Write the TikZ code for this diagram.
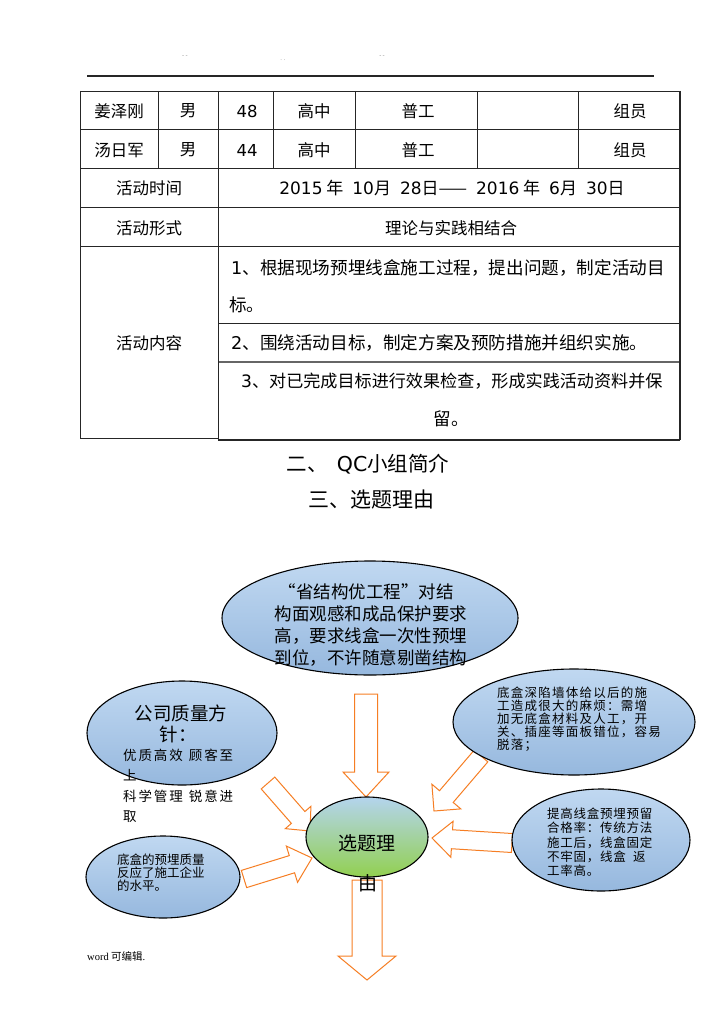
\documentclass[tikz,border=0pt]{standalone}
\usepackage{fontspec}
\setmainfont{Noto Sans CJK SC}
\newfontfamily\footfont{Liberation Serif}
\newfontfamily\dv{DejaVu Sans}
\newfontfamily\spacedA[LetterSpace=14]{Noto Sans CJK SC}
\newfontfamily\spacedB[LetterSpace=10]{Noto Sans CJK SC}
\newfontfamily\spacedC[LetterSpace=6]{Noto Sans CJK SC}
\usetikzlibrary{calc,shapes.geometric}
\definecolor{blueT}{RGB}{192,216,241}
\definecolor{blueB}{RGB}{150,184,222}
\definecolor{greenT}{RGB}{180,212,238}
\definecolor{greenB}{RGB}{146,208,80}
\definecolor{arrowor}{RGB}{246,126,36}
\newcommand\myfs[2]{\fontsize{#1}{#2}\selectfont}
\newcommand\blockarrow[5]{%
  \coordinate (ba-h) at ($(#2)!#5!(#1)$);
  \draw[arrowline] ($(#1)!#3!90:(#2)$) -- ($(ba-h)!#3!90:(#2)$) -- ($(ba-h)!#4!90:(#2)$) -- (#2)
     -- ($(ba-h)!#4!-90:(#2)$) -- ($(ba-h)!#3!-90:(#2)$) -- ($(#1)!#3!-90:(#2)$) -- cycle;}
\begin{document}
\begin{tikzpicture}[x=1pt,y=-1pt,
  tline/.style={line width=0.7pt, black!85},
  ttext/.style={font=\myfs{16.5}{20}, inner sep=0},
  ltext/.style={font=\myfs{17.6}{20}, inner sep=0, anchor=west},
  blueell/.style={ellipse, draw=black, line width=1.1pt, top color=blueT, bottom color=blueB, inner sep=0},
  greenell/.style={ellipse, draw=black, line width=1.1pt, top color=greenT, bottom color=greenB, inner sep=0},
  arrowline/.style={draw=arrowor, line width=1pt, fill=white, line join=miter},
  etext/.style={inner sep=0, align=left}]
\useasboundingbox[fill=white] (0,0) rectangle (723,1024);

% header
\draw[line width=1.6pt, black!85] (87,76) -- (654,76);
\node[inner sep=0, font=\myfs{6}{6}, gray] (m1) at (185,57) {- -};
\node[inner sep=0, font=\myfs{6}{6}, gray] (m2) at (283,60) {. .};
\node[inner sep=0, font=\myfs{6}{6}, gray] (m3) at (382,57) {- -};

% table grid
\draw[tline] (80,91) -- (680,91);
\draw[tline] (80,129) -- (680,129);
\draw[tline] (80,168) -- (680,168);
\draw[tline] (80,207) -- (680,207);
\draw[tline] (80,246) -- (680,246);
\draw[tline] (218,323) -- (680,323);
\draw[tline, line width=1.2pt, black!60] (218,362) -- (680,362);
\draw[tline] (80,438) -- (218,438);
\draw[line width=1.8pt, black!85] (218,440) -- (680,440);
\draw[tline] (80,91) -- (80,438);
\draw[tline] (158,91) -- (158,168);
\draw[tline] (218,91) -- (218,440);
\draw[tline] (273,91) -- (273,168);
\draw[tline] (355,91) -- (355,168);
\draw[tline] (477,91) -- (477,168);
\draw[tline] (578,91) -- (578,168);
\draw[line width=1.8pt, black!85] (680,91) -- (680,440);

% table text
\node[ttext] (r1a) at (119,111) {姜泽刚};
\node[ttext] (r1b) at (188,111) {男};
\node[ttext] (r1c) at (247,111) {\dv 48};
\node[ttext] (r1d) at (314,111) {高中};
\node[ttext] (r1e) at (418,111) {普工};
\node[ttext] (r1f) at (630,111) {组员};
\node[ttext] (r2a) at (119,150) {汤日军};
\node[ttext] (r2b) at (188,150) {男};
\node[ttext] (r2c) at (247,150) {\dv 44};
\node[ttext] (r2d) at (314,150) {高中};
\node[ttext] (r2e) at (418,150) {普工};
\node[ttext] (r2f) at (630,150) {组员};
\node[ttext] (r3a) at (149,188) {活动时间};
\node[ttext, font=\myfs{17}{20}] (r3b) at (452,188) {{\dv 2015} 年\hspace{9pt}{\dv 10}月\hspace{9pt}{\dv 28}日——\hspace{9pt}{\dv 2016} 年\hspace{9pt}{\dv 6}月\hspace{9pt}{\dv 30}日};
\node[ttext] (r4a) at (149,228) {活动形式};
\node[ttext] (r4b) at (451,228) {理论与实践相结合};
\node[ttext] (r5a) at (149,343) {活动内容};
\node[ltext] (l1) at (231,268) {{\dv 1}、根据现场预埋线盒施工过程，提出问题，制定活动目};
\node[ltext] (l2) at (229,305) {标。};
\node[ltext] (l3) at (231,343) {{\dv 2}、围绕活动目标，制定方案及预防措施并组织实施。};
\node[ltext, font=\myfs{17.1}{20}] (l4) at (241,381) {{\dv 3}、对已完成目标进行效果检查，形成实践活动资料并保};
\node[ttext, font=\myfs{17.6}{20}] (l5) at (451,419) {留。};

% headings
\node[inner sep=0, font=\myfs{20.5}{24}] (h2) at (368,464) {二、\ \ {\dv QC}小组简介};
\node[inner sep=0, font=\myfs{21}{24}] (h3) at (371,500) {三、选题理由};

% arrows (behind ellipses)
\coordinate (aT1) at (366,694); \coordinate (aT2) at (366,797);
\coordinate (aB1) at (367,880); \coordinate (aB2) at (367,980);
\coordinate (aC1) at (268,783); \coordinate (aC2) at (310,831);
\coordinate (aD1) at (244,879); \coordinate (aD2) at (312,858);
\coordinate (aE1) at (481,756); \coordinate (aE2) at (434,811);
\coordinate (aF1) at (512,843); \coordinate (aF2) at (432,838);
\blockarrow{aT1}{aT2}{11.5pt}{23pt}{25pt}
\blockarrow{aC1}{aC2}{9pt}{17pt}{18pt}
\blockarrow{aD1}{aD2}{9pt}{19pt}{21pt}
\blockarrow{aE1}{aE2}{9pt}{19pt}{19pt}
\blockarrow{aF1}{aF2}{9.5pt}{18pt}{20pt}

% ellipses
\node[blueell, minimum width=296pt, minimum height=114pt] (e1) at (370,618) {};
\node[blueell, minimum width=190pt, minimum height=104pt] (e2) at (182,733) {};
\node[blueell, minimum width=242pt, minimum height=106pt] (e3) at (574,722) {};
\node[blueell, minimum width=178pt, minimum height=102pt] (e4) at (601,840) {};
\node[blueell, minimum width=154pt, minimum height=82pt] (e5) at (163,877) {};
\node[greenell, minimum width=122pt, minimum height=80pt] (c) at (367,837) {};
\blockarrow{aB1}{aB2}{15pt}{29pt}{24pt}

% ellipse texts
\node[etext, font=\myfs{17.5}{22}] (t1) at (371,625) {\hspace{4pt}“省结构优工程”对结\\构面观感和成品保护要求\\高，要求线盒一次性预埋\\到位，不许随意剔凿结构};
\node[inner sep=0, font=\myfs{18.5}{20}] (t2a) at (181,713) {公司质量方};
\node[inner sep=0, font=\myfs{18.5}{20}] (t2b) at (178,734) {针：};
\node[etext, font=\spacedA\myfs{13.5}{20.3}, anchor=north west] (t2c) at (123,749) {优质高效\hspace{6pt}顾客至\\上\\科学管理\hspace{6pt}锐意进\\取};
\node[etext, font=\spacedB\myfs{12.5}{13}, anchor=north west] (t3) at (497,687) {底盒深陷墙体给以后的施\\工造成很大的麻烦：需增\\加无底盒材料及人工，开\\关、插座等面板错位，容易\\脱落；};
\node[etext, font=\spacedC\myfs{12.5}{14.2}, anchor=north west] (t4) at (547,808) {提高线盒预埋预留\\合格率：传统方法\\施工后，线盒固定\\不牢固，线盒\ \ 返\\工率高。};
\node[etext, font=\myfs{12.5}{11.2}, anchor=north west] (t5) at (117,854) {底盒的预埋质量\\反应了施工企业\\的水平。};
\node[inner sep=0, font=\myfs{19}{22}] (tc1) at (367,843) {选题理};
\node[inner sep=0, font=\myfs{19}{22}] (tc2) at (368,883) {由};

% footer
\node[inner sep=0, anchor=west, font=\myfs{10.5}{12}] (ft) at (87,956) {{\footfont word} 可编辑{\footfont .}};
\end{tikzpicture}
\end{document}
